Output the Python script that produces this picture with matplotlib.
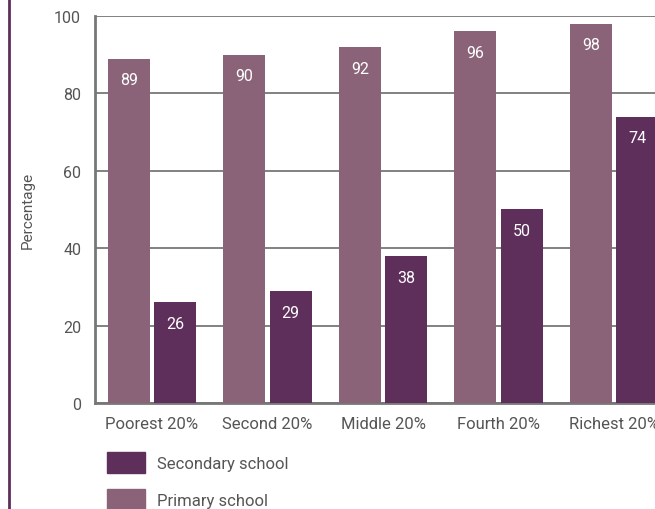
import numpy as np
import matplotlib.pyplot as plt
from matplotlib.patches import Patch

plt.rcParams['font.family'] = ['Roboto', 'DejaVu Sans']

groups = ['Poorest 20%', 'Second 20%', 'Middle 20%', 'Fourth 20%', 'Richest 20%']
primary = [89, 90, 92, 96, 98]
secondary = [26, 29, 38, 50, 74]

col_primary = '#8a6379'
col_secondary = '#5f2f5c'
txt_col = '#555555'

fig = plt.figure(figsize=(6.55, 5.1), dpi=100)
ax = fig.add_axes([0.145, 0.2078, 0.855, 0.759])

x = np.arange(len(groups))
w = 0.364
ax.bar(x - 0.2, primary, w, color=col_primary, zorder=3)
ax.bar(x + 0.2, secondary, w, color=col_secondary, zorder=3)

for xi, v in zip(x, primary):
    ax.text(xi - 0.2, v - 5.5, str(v), ha='center', va='center', color='white', fontsize=11.5, zorder=4)
for xi, v in zip(x, secondary):
    ax.text(xi + 0.2, v - 5.5, str(v), ha='center', va='center', color='white', fontsize=11.5, zorder=4)

ax.set_xlim(-0.494, 4.355)
ax.set_ylim(0, 100)
ax.set_yticks([0, 20, 40, 60, 80, 100])
ax.set_xticks(x)
ax.set_xticklabels(groups)
ax.tick_params(axis='x', length=0, labelsize=12, labelcolor=txt_col, pad=9)
ax.tick_params(axis='y', length=0, labelsize=11.5, labelcolor=txt_col, pad=10)
ax.yaxis.grid(True, color='#777777', linewidth=1.3, zorder=0)
for s in ['top', 'right']:
    ax.spines[s].set_visible(False)
for s in ['left', 'bottom']:
    ax.spines[s].set_color('#777777')
    ax.spines[s].set_linewidth(2)
ax.set_ylabel('Percentage', fontsize=11, color=txt_col)
ax.yaxis.set_label_coords(-0.107, 0.5)

# legend: secondary first, as in the original
handles = [Patch(color=col_secondary, label='Secondary school'),
           Patch(color=col_primary, label='Primary school')]
fig.legend(handles=handles, loc='upper left', bbox_to_anchor=(0.153, 0.125),
           frameon=False, fontsize=12, handlelength=2.3, handleheight=1.55,
           handletextpad=0.72, labelspacing=1.0, borderaxespad=0, labelcolor=txt_col)

fig.add_artist(plt.Line2D([0.013, 0.013], [0, 1], color=col_secondary, linewidth=2))

fig.savefig('out.png', dpi=100)
